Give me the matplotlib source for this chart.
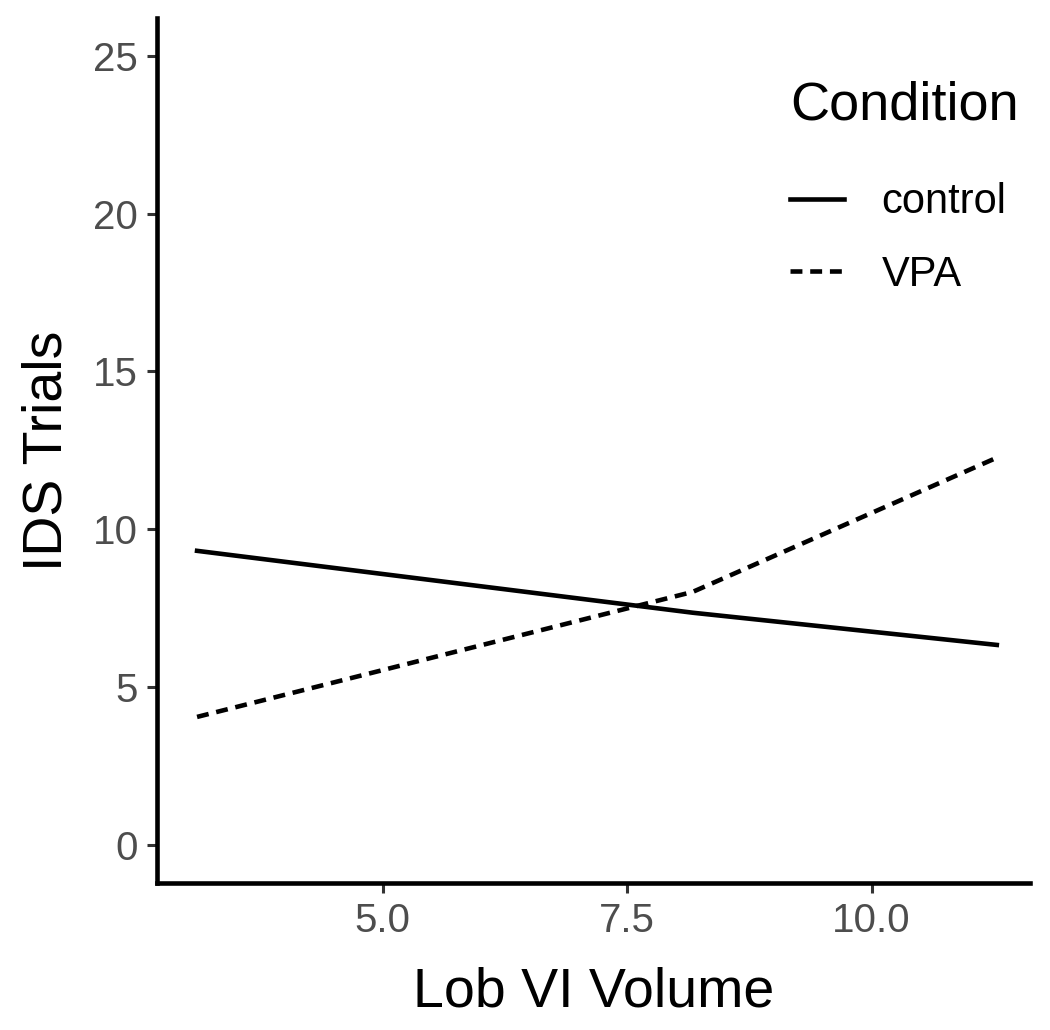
"""
IDS trials vs Lob VI volume, by condition
"""

import matplotlib
matplotlib.use('Agg')
import matplotlib.pyplot as plt
from matplotlib import rcParams

rcParams['font.family'] = ['Liberation Sans', 'DejaVu Sans']

control_x = [3.10, 8.17, 11.28]
control_y = [9.32, 7.36, 6.34]
vpa_x = [3.10, 8.17, 11.28]
vpa_y = [4.06, 8.02, 12.27]

xticks = [5.0, 7.5, 10.0]
yticks = [0, 5, 10, 15, 20, 25]


def main():
    fig = plt.figure(figsize=(10.5, 10.3), dpi=100)
    ax = fig.add_axes([0.1495, 0.1427, 0.8315, 0.84])

    ax.plot(control_x, control_y, color='black', lw=3.3, ls='-', label='control')
    ax.plot(vpa_x, vpa_y, color='black', lw=3.3, ls=(0, (2.6, 1.7)), label='VPA')

    ax.set_xlim(2.69, 11.62)
    ax.set_ylim(-1.2, 26.2)
    ax.set_xticks(xticks)
    ax.set_xticklabels(['%.1f' % v for v in xticks])
    ax.set_yticks(yticks)

    for s in ['top', 'right']:
        ax.spines[s].set_visible(False)
    for s in ['left', 'bottom']:
        ax.spines[s].set_linewidth(3.3)
    ax.tick_params(axis='both', length=7, width=2.2, color='#333333',
                   labelcolor='#4D4D4D', labelsize=29, pad=7)

    ax.set_xlabel('Lob VI Volume', fontsize=40, labelpad=19)
    ax.set_ylabel('IDS Trials', fontsize=40, labelpad=14)

    leg = ax.legend(title='Condition', loc='upper left', frameon=False,
                    fontsize=30, title_fontsize=39, handlelength=1.3,
                    handletextpad=0.9, labelspacing=0.78,
                    borderpad=0, borderaxespad=0,
                    bbox_to_anchor=(790 / 1050, 1 - 81 / 1030),
                    bbox_transform=fig.transFigure)
    leg._legend_box.align = 'left'
    leg._legend_box.sep = 37

    fig.savefig('out.png', dpi=100)


if __name__ == '__main__':
    main()
